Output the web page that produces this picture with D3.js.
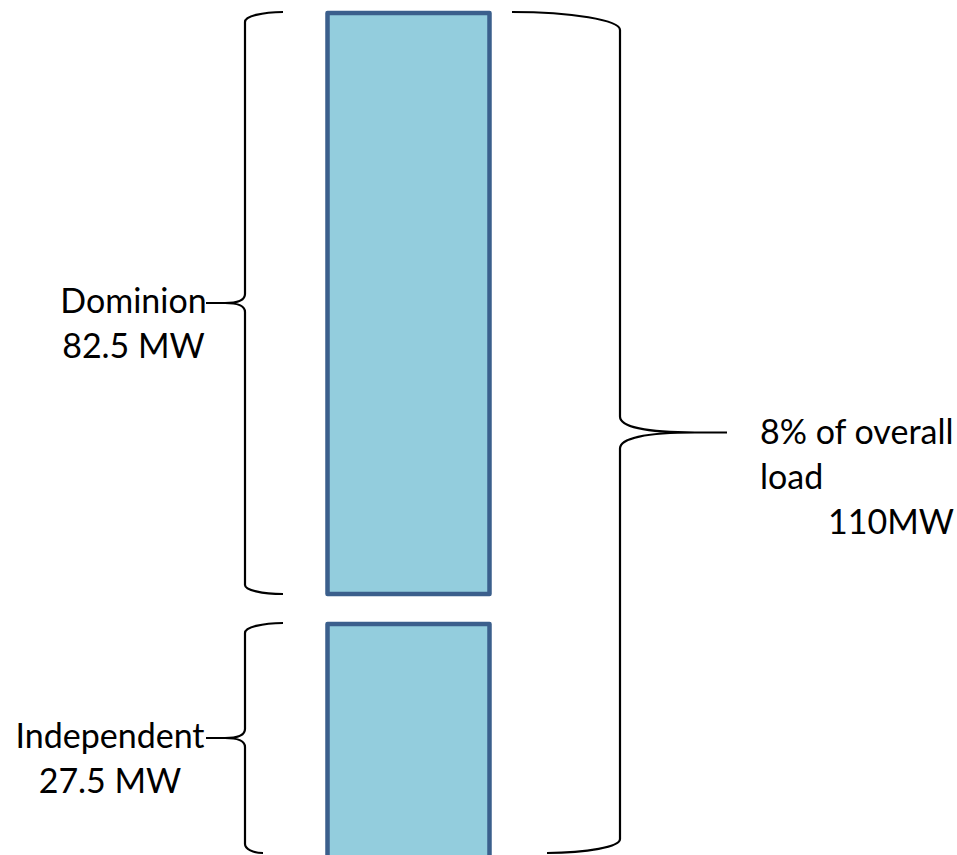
<!DOCTYPE html>
<html>
<head>
<meta charset="utf-8">
<script src="https://cdn.jsdelivr.net/npm/d3@7/dist/d3.min.js"></script>
<style>
  html, body { margin: 0; padding: 0; background: #ffffff; }
  svg { display: block; }
  text { font-family: Lato, "Open Sans", "Noto Sans", sans-serif; fill: #000; }
</style>
</head>
<body>
<svg id="chart" width="957" height="855"></svg>
<script>
// ---- data ----
const categories = ["Dominion", "Independent"];
const valuesMW = [82.5, 27.5];
const valueLabels = ["82.5 MW", "27.5 MW"];
const totalLines = ["8% of overall", "load", "110MW"];

// ---- layout ----
const W = 957, H = 855;
const svg = d3.select("#chart");
const total = d3.sum(valuesMW);
const cum = d3.cumsum(valuesMW);
const starts = cum.map((c, i) => c - valuesMW[i]);

const gap = 30;
const y = d3.scaleLinear()
  .domain([0, valuesMW[0], total])
  .range([13, 594, 884]);

const x = d3.scaleBand().domain(["bar"]).range([327.5, 489.5]).padding(0);

const bars = categories.map((c, i) => ({
  name: c,
  value: valuesMW[i],
  label: valueLabels[i],
  y0: y(starts[i]) + (i > 0 ? gap : 0),
  y1: y(cum[i])
}));

// bars
svg.append("g").selectAll("rect").data(bars).join("rect")
  .attr("x", x("bar"))
  .attr("width", x.bandwidth())
  .attr("y", d => d.y0)
  .attr("height", d => d.y1 - d.y0)
  .attr("fill", "#93CDDD")
  .attr("stroke", "#3B5F8C")
  .attr("stroke-width", 4.5)
  .attr("stroke-linejoin", "round");

// brace path generator
const K = 0.5523;
function brace(xv, y1, y2, tailTop, tailBot, ryTop, ryBot, tipCurveX, tipX, tipHalf, ym) {
  const s = Math.sign(tipX - xv); // direction of tip
  const rt = tailTop - xv, rb = tailBot - xv;
  const p = d3.path();
  p.moveTo(tailTop, y1);
  p.bezierCurveTo(tailTop - rt * K, y1, xv, y1 + ryTop - ryTop * K, xv, y1 + ryTop);
  p.lineTo(xv, ym - tipHalf);
  p.bezierCurveTo(xv, ym - tipHalf * 0.35, xv + s * Math.abs(tipCurveX - xv) * 0.35, ym, tipCurveX, ym);
  p.lineTo(tipX, ym);
  p.moveTo(tipCurveX, ym);
  p.bezierCurveTo(xv + s * Math.abs(tipCurveX - xv) * 0.35, ym, xv, ym + tipHalf * 0.35, xv, ym + tipHalf);
  p.lineTo(xv, y2 - ryBot);
  p.bezierCurveTo(xv, y2 - ryBot + ryBot * K, tailBot - rb * K, y2, tailBot, y2);
  return p.toString();
}

const braceG = svg.append("g")
  .attr("fill", "none").attr("stroke", "#000").attr("stroke-width", 2.2);

const bracePageBottom = H - 2;
const leftBraces = bars.map((d, i) => {
  const top = d.y0 - 1;
  const bot = Math.min(d.y1, bracePageBottom);
  return { top, bot, mid: (top + bot) / 2 };
});

leftBraces.forEach((b, i) => {
  braceG.append("path").attr("d",
    brace(245, b.top, b.bot, 283, i === 0 ? 283 : 263, 10, 9, 225, 206, 9, b.mid));
});

// right brace (total)
const rTop = y(0) - 1, rBot = bracePageBottom;
const rMid = (rTop + rBot) / 2;
braceG.append("path").attr("d",
  brace(620, rTop, rBot, 512, 547, 18, 14, 695, 727, 16, rMid));

// left labels
const fs = 34;
leftBraces.forEach((b, i) => {
  const cx = i === 0 ? 133.5 : 110;
  const t = svg.append("text").attr("text-anchor", "middle").attr("font-size", fs);
  t.append("tspan").attr("x", cx).attr("y", b.mid + 10).text(bars[i].name);
  t.append("tspan").attr("x", cx).attr("y", b.mid + 55).text(bars[i].label);
});

// right labels
const rt = svg.append("text").attr("font-size", fs);
rt.append("tspan").attr("x", 760).attr("y", rMid + 11).text(totalLines[0]);
rt.append("tspan").attr("x", 760).attr("y", rMid + 56).text(totalLines[1]);
rt.append("tspan").attr("x", 828).attr("y", rMid + 101).text(totalLines[2]);
</script>
</body>
</html>
